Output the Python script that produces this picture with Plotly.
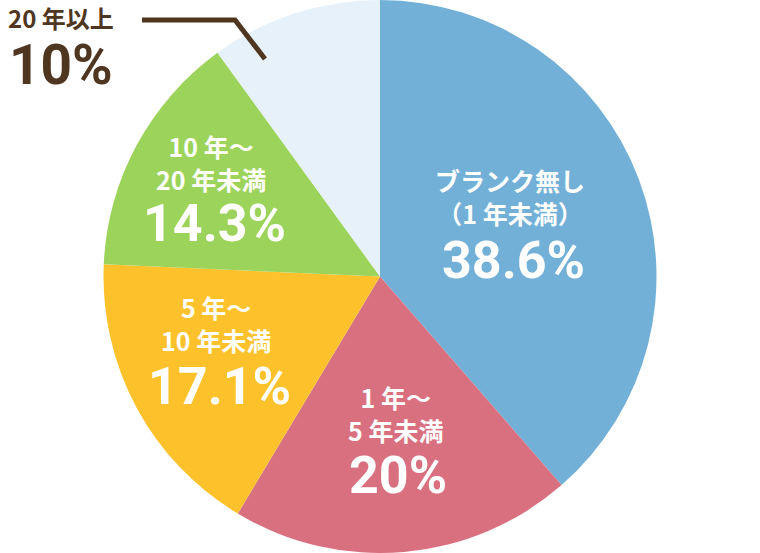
import plotly.graph_objects as go

categories = ["ブランク無し（1 年未満）", "1 年～5 年未満", "5 年～10 年未満", "10 年～20 年未満", "20 年以上"]
values = [38.6, 20, 17.1, 14.3, 10]
label_line1 = ["ブランク無し", "1 年～", "5 年～", "10 年～", "20 年以上"]
label_line2 = ["（1 年未満）", "5 年未満", "10 年未満", "20 年未満", ""]
colors = ["#72b0d8", "#d97080", "#fdc22b", "#9cd35a", "#e6f1f9"]

W, H = 760, 553
FONT = "Noto Sans CJK JP"
NUMFONT = "Roboto"

fig = go.Figure(go.Pie(
    labels=categories,
    values=values,
    sort=False,
    direction="clockwise",
    rotation=0,
    marker=dict(colors=colors, line=dict(width=0)),
    textinfo="none",
    hoverinfo="label+percent",
    showlegend=False,
    domain=dict(x=[103 / W, 657 / W], y=[0, 1]),
))

# label anchor positions (pixels): (x, y_center_of_two_lines, y_pct)
label_pos = [
    (510, 196, 260),
    (395, 413, 475),
    (216, 323, 386),
    (211, 162, 224),
]

def px(x, y):
    return x / W, 1 - y / H

anns = []
for i, (x, y12, y3) in enumerate(label_pos):
    ax, ay = px(x, y12)
    anns.append(dict(x=ax, y=ay, xref="paper", yref="paper",
                     text=f"{label_line1[i]}<br>{label_line2[i]}", showarrow=False,
                     xanchor="center", yanchor="middle",
                     font=dict(family=FONT, size=25, color="white", weight="bold")))
    ax, ay = px(x + 3, y3)
    anns.append(dict(x=ax, y=ay, xref="paper", yref="paper", text=f"{values[i]:g}%", showarrow=False,
                     xanchor="center", yanchor="middle",
                     font=dict(family=NUMFONT, size=52, color="white", weight="bold")))

# outside label for last slice
ax, ay = px(61, 18)
anns.append(dict(x=ax, y=ay, xref="paper", yref="paper", text=label_line1[4], showarrow=False,
                 xanchor="center", yanchor="middle",
                 font=dict(family=FONT, size=24, color="#4f3620", weight="bold")))
ax, ay = px(61, 65)
anns.append(dict(x=ax, y=ay, xref="paper", yref="paper", text=f"{values[4]:g}%", showarrow=False,
                 xanchor="center", yanchor="middle",
                 font=dict(family=NUMFONT, size=55, color="#4f3620", weight="bold")))

p = [px(142, 20), px(235, 20), px(265, 59)]
path = f"M {p[0][0]},{p[0][1]} L {p[1][0]},{p[1][1]} L {p[2][0]},{p[2][1]}"

fig.update_layout(
    width=W, height=H,
    margin=dict(l=0, r=0, t=0, b=0),
    paper_bgcolor="white",
    plot_bgcolor="white",
    annotations=anns,
    shapes=[dict(type="path", path=path, xref="paper", yref="paper",
                 line=dict(color="#4f3620", width=5))],
)

fig.write_html("out.html", config={"displayModeBar": False},
               post_script="document.body.style.margin='0';document.body.style.padding='0';")
